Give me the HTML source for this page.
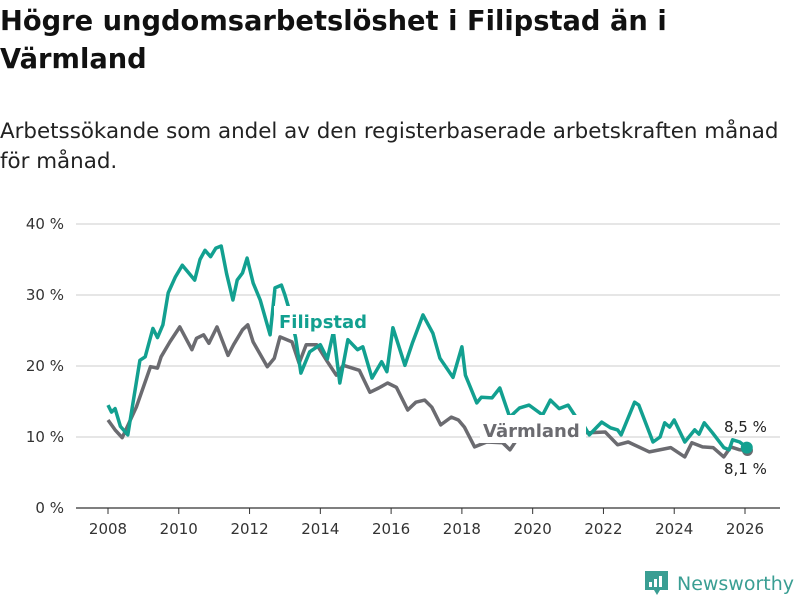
<!DOCTYPE html>
<html><head><meta charset="utf-8">
<style>
body{margin:0;background:#fff;font-family:"DejaVu Sans","Liberation Sans",sans-serif;}
#wrap{position:relative;width:800px;height:600px;overflow:hidden;}
h1{position:absolute;left:0;top:3px;margin:0;font-size:27.3px;line-height:38px;font-weight:bold;color:#111;width:800px;white-space:nowrap;}
p.sub{position:absolute;left:0;top:117px;margin:0;font-size:21.4px;line-height:30px;color:#222;width:800px;white-space:nowrap;}
svg{position:absolute;left:0;top:0;font-family:"DejaVu Sans","Liberation Sans",sans-serif;}
</style></head><body>
<div id="wrap">
<h1>Högre ungdomsarbetslöshet i Filipstad än i<br>Värmland</h1>
<p class="sub">Arbetssökande som andel av den registerbaserade arbetskraften månad<br>för månad.</p>
<svg id="chart" width="800" height="600"></svg>
</div>
<script>
const yTicks=[0,10,20,30,40];
const xTicks=[2008,2010,2012,2014,2016,2018,2020,2022,2024,2026];
const filDates=[2008.0,2008.1,2008.2,2008.35,2008.56,2008.9,2009.05,2009.27,2009.4,2009.55,2009.7,2009.9,2010.1,2010.3,2010.45,2010.6,2010.74,2010.9,2011.05,2011.2,2011.35,2011.53,2011.65,2011.8,2011.93,2012.1,2012.3,2012.58,2012.72,2012.9,2013.0,2013.1,2013.3,2013.45,2013.7,2014.0,2014.2,2014.37,2014.55,2014.78,2015.05,2015.2,2015.46,2015.73,2015.88,2016.05,2016.39,2016.6,2016.9,2017.18,2017.38,2017.75,2018.0,2018.1,2018.42,2018.55,2018.85,2019.07,2019.35,2019.63,2019.9,2020.28,2020.5,2020.75,2021.0,2021.2,2021.4,2021.6,2021.95,2022.2,2022.4,2022.5,2022.88,2023.0,2023.4,2023.6,2023.73,2023.87,2024.0,2024.3,2024.58,2024.7,2024.85,2025.08,2025.4,2025.55,2025.65,2025.85,2026.05];
const filVals=[14.5,13.5,14.0,11.5,10.3,20.8,21.3,25.3,24,25.8,30.3,32.5,34.2,33,32.1,35,36.3,35.4,36.6,36.9,33,29.3,32.1,33.1,35.2,31.7,29.3,24.4,31,31.4,30,28.3,24,19,22,23,21,24.8,17.6,23.7,22.3,22.7,18.3,20.6,19.2,25.4,20.1,23.2,27.2,24.6,21.1,18.4,22.7,18.7,14.8,15.6,15.5,16.9,12.8,14.1,14.5,13.1,15.2,14,14.5,13,12,10.3,12.1,11.3,11,10.3,14.9,14.5,9.3,10,12,11.4,12.4,9.3,11,10.4,12,10.6,8.5,8.2,9.6,9.3,8.5];
const varDates=[2008.0,2008.2,2008.4,2008.8,2009.2,2009.4,2009.5,2009.75,2010.03,2010.37,2010.5,2010.7,2010.85,2011.08,2011.39,2011.55,2011.8,2011.95,2012.1,2012.5,2012.7,2012.86,2013.2,2013.4,2013.6,2013.9,2014.2,2014.45,2014.65,2015.1,2015.4,2015.65,2015.9,2016.15,2016.47,2016.7,2016.95,2017.15,2017.4,2017.7,2017.9,2018.07,2018.36,2018.7,2019.15,2019.36,2019.55,2020.0,2020.5,2021.0,2021.35,2021.6,2022.05,2022.4,2022.7,2023.3,2023.9,2024.3,2024.5,2024.8,2025.1,2025.4,2025.6,2025.85,2026.07];
const varVals=[12.4,11,9.9,14.2,19.9,19.7,21.3,23.4,25.5,22.3,23.9,24.4,23.2,25.5,21.5,23,25.1,25.8,23.4,19.9,21.1,24.1,23.4,20.4,23,23,20.6,18.7,20.1,19.4,16.3,16.9,17.6,17,13.8,14.9,15.2,14.2,11.7,12.8,12.4,11.4,8.6,9.3,9.2,8.2,9.6,10.5,11,11,10.6,10.6,10.7,8.9,9.3,7.9,8.5,7.2,9.2,8.6,8.5,7.2,8.6,8.2,8.1];
const svg=document.getElementById('chart');const NS='http://www.w3.org/2000/svg';
const X0=76,X1=780,Y0=508;
const xs=d=>108+(d-2008)*(745-108)/18;
const ys=v=>Y0-v*(Y0-224)/40;
function mk(t,a,p){const e=document.createElementNS(NS,t);for(const k in a)e.setAttribute(k,a[k]);(p||svg).appendChild(e);return e;}
yTicks.forEach(v=>{
 const g=mk('line',{x1:X0,x2:X1,y1:ys(v),y2:ys(v),stroke:v==0?'#333':'#ddd','stroke-width':v==0?1.2:1.5});
 
 
 const t=mk('text',{x:64,y:ys(v)+5,'text-anchor':'end','font-size':15,fill:'#333'});t.textContent=v+' %';
 
 
});
xTicks.forEach(y=>{
 const l=mk('line',{x1:xs(y),x2:xs(y),y1:Y0,y2:Y0+6,stroke:'#333','stroke-width':1});
 
 
 const t=mk('text',{x:xs(y),y:Y0+26,'text-anchor':'middle','font-size':15,fill:'#333'});t.textContent=y;
 
 
});
function path(d,v){return d.map((x,i)=>(i?'L':'M')+xs(x).toFixed(1)+','+ys(v[i]).toFixed(1)).join('');}
const pv=mk('path',{d:path(varDates,varVals),fill:'none',stroke:'#6b6b70','stroke-width':3.5,'stroke-linejoin':'round'});


const pf=mk('path',{d:path(filDates,filVals),fill:'none',stroke:'#12a090','stroke-width':3.5,'stroke-linejoin':'round'});


mk('rect',{x:274,y:306,width:98,height:28,fill:'#fff'});
mk('rect',{x:480,y:415,width:106,height:28,fill:'#fff'});
const lf=mk('text',{x:279,y:328,'font-size':18,'font-weight':'bold',fill:'#12a090'});lf.textContent='Filipstad';


const lv=mk('text',{x:483,y:437,'font-size':18,'font-weight':'bold',fill:'#6b6b70'});lv.textContent='Värmland';


const n=filDates.length-1,m=varDates.length-1;
const dv=mk('circle',{cx:xs(varDates[m]),cy:ys(varVals[m]),r:5.5,fill:'#6b6b70'});


const df=mk('circle',{cx:xs(filDates[n]),cy:ys(filVals[n]),r:6,fill:'#12a090'});


const ef=mk('text',{x:724,y:432,'font-size':15,fill:'#222'});ef.textContent='8,5 %';


const ev=mk('text',{x:724,y:474,'font-size':15,fill:'#222'});ev.textContent='8,1 %';


const lg=mk('g',{});


mk('path',{d:'M645,571 h23 v19 h-8 l-3,5 l-3,-5 h-9 z',fill:'#3a9e93'},lg);
mk('rect',{x:649,y:582,width:3,height:5,fill:'#fff'},lg);
mk('rect',{x:654,y:579,width:3,height:8,fill:'#fff'},lg);
mk('rect',{x:659,y:576,width:3,height:11,fill:'#fff'},lg);
const lt=mk('text',{x:677,y:590,'font-size':18.5,fill:'#3a9e93',textLength:117,lengthAdjust:'spacingAndGlyphs'},lg);lt.textContent='Newsworthy';
</script>
</body></html>
